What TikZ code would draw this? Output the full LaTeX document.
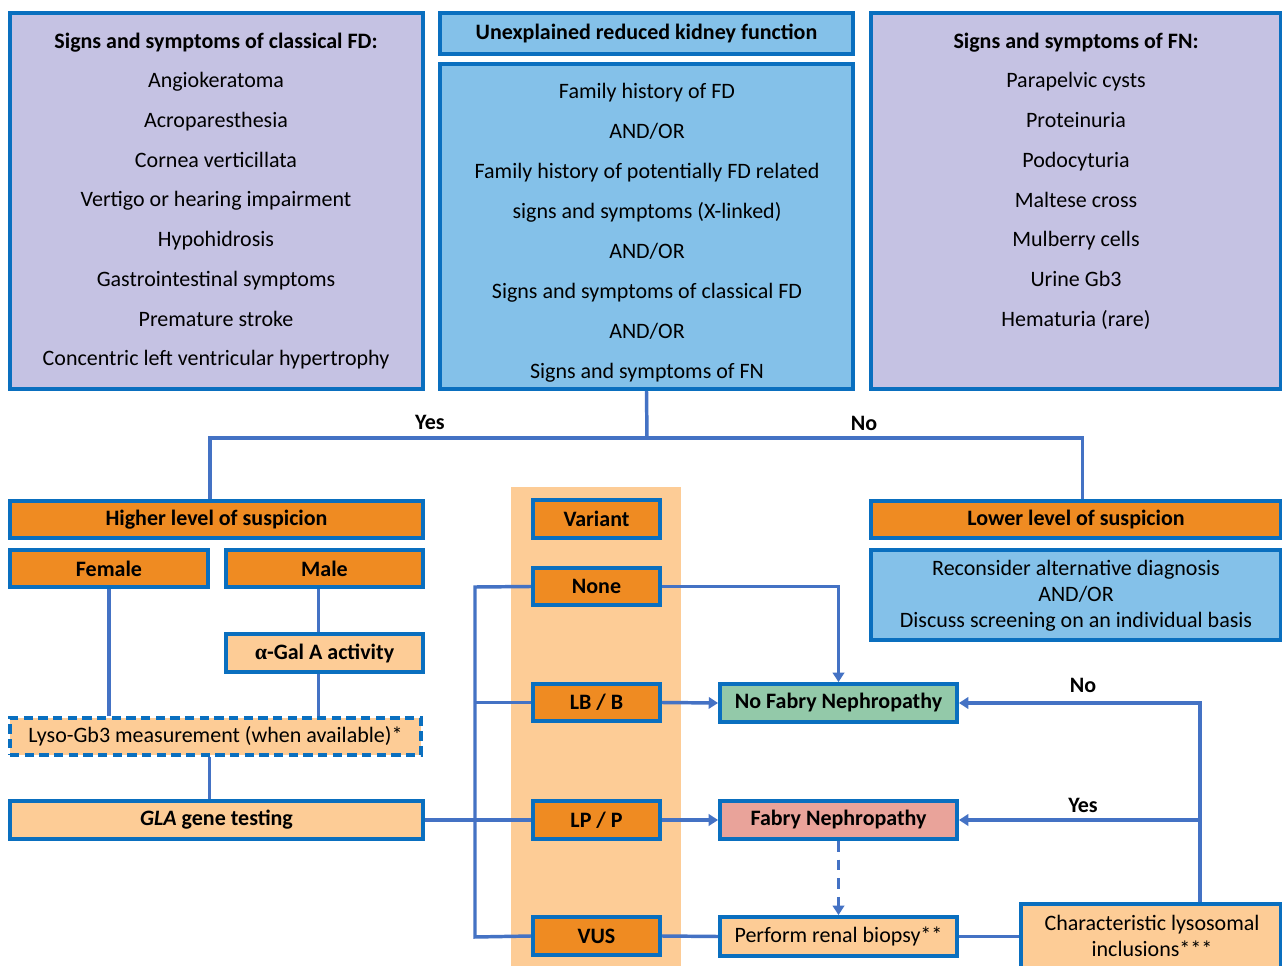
\documentclass[tikz,border=0pt]{standalone}
\usepackage{fontspec}
\setmainfont{Carlito}
\newfontfamily\grkfont{Liberation Serif}
\usetikzlibrary{arrows.meta,fit}
\definecolor{bord}{HTML}{0A6FBF}
\definecolor{conn}{HTML}{4472C4}
\definecolor{purp}{HTML}{C5C2E3}
\definecolor{lblue}{HTML}{84C1E9}
\definecolor{orng}{HTML}{EF8B22}
\definecolor{lorng}{HTML}{FDCC96}
\definecolor{grn}{HTML}{93C9A9}
\definecolor{salm}{HTML}{E9A39A}
\begin{document}
\begin{tikzpicture}[x=0.75pt,y=-0.75pt,font=\fontsize{16.5}{20}\selectfont]
\tikzset{
  bx/.style={draw=bord,line width=2.9pt,inner sep=0pt},
  pbox/.style={bx,fill=purp},
  bbox/.style={bx,fill=lblue},
  obox/.style={bx,fill=orng},
  lobox/.style={bx,fill=lorng},
  gbox/.style={bx,fill=grn},
  sbox/.style={bx,fill=salm},
  tn/.style={font=\fontsize{16.5}{20}\selectfont,inner sep=0pt,align=center},
  tb/.style={font=\fontsize{16.5}{20}\selectfont\bfseries,inner sep=0pt,align=center},
  ln/.style={draw=conn,line width=2.6pt},
  arr/.style={ln,-{Triangle[width=8.5pt,length=7pt]}},
  lab/.style={font=\fontsize{16.5}{20}\selectfont\bfseries,inner sep=0pt},
  txt/.style={inner sep=0pt,align=center}
}
\useasboundingbox (0,0) rectangle (1282,966);
\fill[white] (0,0) rectangle (1282,966);
% variant column background
\fill[lorng] (511,487) rectangle (681,966);

% top boxes
\node[pbox,fit={(10,13)(423,389)}] (fd) {};
\node[txt,font=\fontsize{16.5}{29.8}\selectfont] (fdt) at (216,201) {\textbf{Signs and symptoms of classical FD:}\\Angiokeratoma\\Acroparesthesia\\Cornea verticillata\\Vertigo or hearing impairment\\Hypohidrosis\\Gastrointestinal symptoms\\Premature stroke\\Concentric left ventricular hypertrophy};

\node[bbox,fit={(440,13)(853,54)},label={[tb]center:Unexplained reduced kidney function}] (ukf) {};
\node[bbox,fit={(440,64)(853,389)}] (mid) {};
\node[txt,font=\fontsize{16.5}{30}\selectfont] (midt) at (647,233) {Family history of FD\\AND/OR\\Family history of potentially FD related\\signs and symptoms (X-linked)\\AND/OR\\Signs and symptoms of classical FD\\AND/OR\\Signs and symptoms of FN};

\node[pbox,fit={(871,13)(1281,389)}] (fn) {};
\node[txt,font=\fontsize{16.5}{29.8}\selectfont] (fnt) at (1076,181) {\textbf{Signs and symptoms of FN:}\\Parapelvic cysts\\Proteinuria\\Podocyturia\\Maltese cross\\Mulberry cells\\Urine Gb3\\Hematuria (rare)};

% yes / no
\node[lab] (yes1) at (430,422) {Yes};
\node[lab] (no1) at (864,423) {No};
\coordinate (j1) at (647,438);

% left column
\node[obox,fit={(10,501)(423,538)},label={[tb]center:Higher level of suspicion}] (high) {};
\node[obox,fit={(10,550)(208,587)},label={[tb]center:Female}] (fem) {};
\node[obox,fit={(226,550)(423,587)},label={[tb]center:Male}] (male) {};
\node[lobox,fit={(226,634)(423,672)},label={[tb]center:{{\grkfont α}-Gal A activity}}] (agal) {};
\node[lobox,dash pattern=on 7pt off 4pt,fit={(10,718)(421,755)},label={[tn]center:Lyso-Gb3 measurement (when available)*}] (lyso) {};
\node[lobox,fit={(10,801)(423,839)},label={[tb]center:{\textit{GLA} gene testing}}] (gla) {};

% variant column
\node[obox,fit={(533,500)(660,538)},label={[tb]center:Variant}] (var) {};
\node[obox,fit={(533,568)(660,605)},label={[tb]center:None}] (none) {};
\node[obox,fit={(533,684)(660,721)},label={[tb]center:LB / B}] (lb) {};
\node[obox,fit={(533,801)(660,839)},label={[tb]center:LP / P}] (lp) {};
\node[obox,fit={(533,917)(660,955)},label={[tb]center:VUS}] (vus) {};

% outcomes
\node[gbox,fit={(720,684)(957,722)},label={[tb]center:No Fabry Nephropathy}] (nof) {};
\node[sbox,fit={(720,801)(957,839)},label={[tb]center:Fabry Nephropathy}] (fab) {};
\node[lobox,fit={(720,917)(957,956)},label={[tn]center:Perform renal biopsy**}] (perf) {};
\node[lobox,fit={(1021,904)(1281,970)}] (char) {};
\node[txt,font=\fontsize{16.5}{19.5}\selectfont] (chart) at (1152,936) {Characteristic lysosomal\\inclusions***};

% right column
\node[obox,fit={(871,501)(1281,538)},label={[tb]center:Lower level of suspicion}] (low) {};
\node[bbox,fit={(871,550)(1281,640)}] (recon) {};
\node[txt,font=\fontsize{16.5}{19.5}\selectfont] (recont) at (1076,596) {Reconsider alternative diagnosis\\AND/OR\\Discuss screening on an individual basis};

\node[lab] (no2) at (1083,685) {No};
\node[lab] (yes2) at (1083,805) {Yes};

% connectors
\draw[ln] (mid.south) -- (j1);
\draw[ln] ([xshift=-4.9pt]high.north) |- (j1) -| ([xshift=4.9pt]low.north);
\draw[ln] (fem.south) -- (fem.south |- lyso.north);
\draw[ln] ([xshift=-4.5pt]male.south) -- ([xshift=-4.5pt]agal.north);
\draw[ln] ([xshift=-4.5pt]agal.south) -- ([xshift=-4.5pt]agal.south |- lyso.north);
\draw[ln] ([xshift=-4.5pt]lyso.south) -- ([xshift=-4.5pt]lyso.south |- gla.north);
\draw[ln] (gla.east) -- (lp.west);
\coordinate (bx1) at (475,587);
\coordinate (bx2) at (475,937);
\draw[ln] (none.west) -- (bx1) -- (bx2) -- (vus.west);
\draw[ln] (lb.west) -- (lb.west -| bx1);
\draw[arr] (none.east) -| (nof.north);
\draw[arr] (lb.east) -- (nof.west);
\draw[arr] (lp.east) -- (fab.west);
\draw[arr,dash pattern=on 8pt off 6pt] (fab.south) -- (perf.north);
\draw[ln] (vus.east) -- (perf.west);
\draw[ln] (perf.east) -- (perf.east -| char.west);
\coordinate (cj) at (1200,703);
\draw[arr] (char.north -| cj) -- (cj) -- (nof.east);
\draw[arr] (cj |- fab.east) -- (fab.east);
\end{tikzpicture}
\end{document}
